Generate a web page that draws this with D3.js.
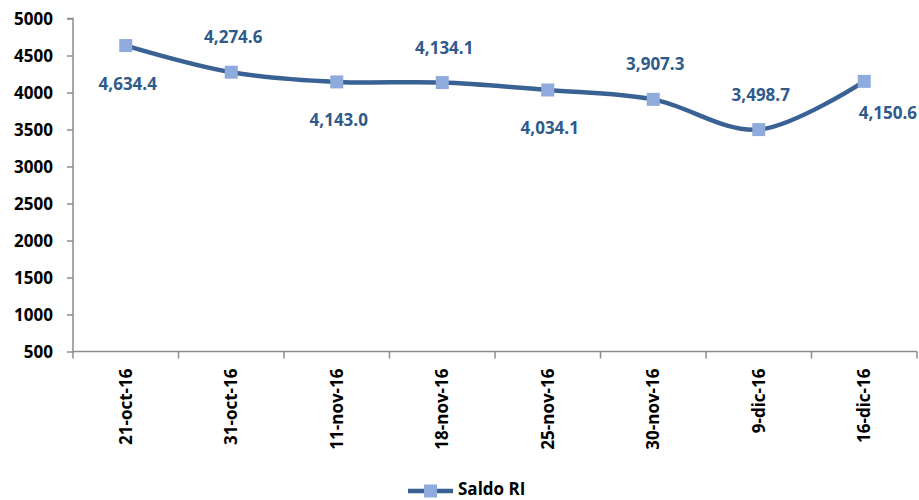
<!DOCTYPE html>
<html><head><meta charset="utf-8">
<script src="https://cdn.jsdelivr.net/npm/d3@7"></script>
<style>body{margin:0;background:#fff}svg{display:block}text{font-family:"Open Sans","Liberation Sans",sans-serif;font-weight:bold}</style>
</head><body><svg id="c" width="919" height="500"></svg>
<script>
const categories = ["21-oct-16","31-oct-16","11-nov-16","18-nov-16","25-nov-16","30-nov-16","9-dic-16","16-dic-16"];
const saldoRI = [4634.4,4274.6,4143.0,4134.1,4034.1,3907.3,3498.7,4150.6];
const yTicks = [500,1000,1500,2000,2500,3000,3500,4000,4500,5000];
const seriesName = "Saldo RI";
const labelPlacement = ["below","above","below","above","below","above","above","right"];

const svg = d3.select("#c");
const m = {l:73, r:917, t:18.5, b:351.5};
const x = d3.scaleBand().domain(categories).range([m.l, m.r]);
const y = d3.scaleLinear().domain([500,5000]).range([m.b, m.t]);
const axisCol = "#8c8c8c", lineCol = "#3a6193", markCol = "#8faadc", lblCol = "#2f5b8c";
const fs = "17px";

// y axis
const ya = svg.append("g").attr("transform",`translate(${m.l},0)`)
  .call(d3.axisLeft(y).tickValues(yTicks).tickSize(6).tickPadding(14).tickFormat(d3.format("d")));
ya.select(".domain").attr("stroke",axisCol).attr("stroke-width",1.5).attr("d",`M-6,${m.t}H0V${m.b}`);
ya.selectAll(".tick line").attr("stroke",axisCol).attr("stroke-width",1.5);
ya.selectAll(".tick text").attr("fill","#000").style("font-size",fs).attr("dy","0.35em");

// x axis
const xa = svg.append("g").attr("transform",`translate(0,${m.b})`);
xa.append("line").attr("x1",m.l).attr("x2",m.r).attr("stroke",axisCol).attr("stroke-width",1.5);
const bounds = categories.map(c=>x(c)).concat([m.r]);
xa.selectAll(".tk").data(bounds).join("line").attr("x1",d=>d).attr("x2",d=>d).attr("y1",0).attr("y2",7)
  .attr("stroke",axisCol).attr("stroke-width",1.5);
xa.selectAll(".xl").data(categories).join("text")
  .attr("transform",d=>`translate(${x(d)+x.bandwidth()/2},17) rotate(-90)`)
  .attr("text-anchor","end").attr("dy","0.35em").attr("fill","#000").style("font-size",fs).text(d=>d);

// line
const pts = categories.map((c,i)=>[x(c)+x.bandwidth()/2, y(saldoRI[i])]);
svg.append("path").attr("d",d3.line().curve(d3.curveCardinal.tension(0))(pts))
  .attr("fill","none").attr("stroke",lineCol).attr("stroke-width",4.5);
svg.selectAll(".mk").data(pts).join("rect").attr("x",d=>d[0]-6.5).attr("y",d=>d[1]-6.5)
  .attr("width",13).attr("height",13).attr("fill",markCol);

// labels
const fmt = d3.format(",.1f");
svg.selectAll(".lb").data(pts).join("text")
  .attr("x",(d,i)=>labelPlacement[i]==="right"? 917 : d[0]+2)
  .attr("y",(d,i)=>labelPlacement[i]==="below"? d[1]+38 : labelPlacement[i]==="above"? d[1]-35 : d[1]+32)
  .attr("text-anchor",(d,i)=>labelPlacement[i]==="right"?"end":"middle").attr("dy","0.35em").attr("fill",lblCol).style("font-size",fs)
  .text((d,i)=>fmt(saldoRI[i]));

// legend
const lg = svg.append("g");
lg.append("line").attr("x1",408).attr("x2",453).attr("y1",491).attr("y2",491).attr("stroke",lineCol).attr("stroke-width",4.5);
lg.append("rect").attr("x",424).attr("y",484.5).attr("width",13).attr("height",13).attr("fill",markCol);
lg.append("text").attr("x",458).attr("y",495).style("font-size",fs).attr("fill","#000").text(seriesName);
</script></body></html>
